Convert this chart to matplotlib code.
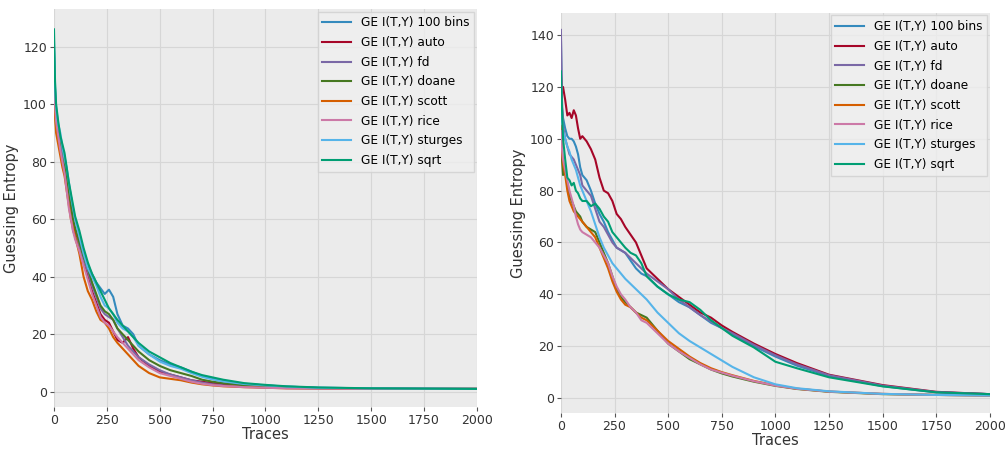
import matplotlib
matplotlib.use("Agg")
import matplotlib.pyplot as plt

# trace counts at which the curves were read
traces = [0, 5, 10, 20, 30, 40, 50, 60, 70, 80, 90, 100, 120, 140, 160, 180, 200,
          220, 240, 260, 280, 300, 325, 350, 375, 400, 450, 500, 550, 600, 650,
          700, 750, 800, 900, 1000, 1100, 1250, 1500, 1750, 2000]

labels = ['GE I(T,Y) 100 bins', 'GE I(T,Y) auto', 'GE I(T,Y) fd', 'GE I(T,Y) doane',
          'GE I(T,Y) scott', 'GE I(T,Y) rice', 'GE I(T,Y) sturges', 'GE I(T,Y) sqrt']
colors = ['#348ABD', '#A60628', '#7A68A6', '#467821', '#D55E00', '#CC79A7', '#56B4E9', '#009E73']

# left panel
left_100bins = [118, 105, 98, 92, 88, 84, 82, 77, 72, 68, 63, 60, 55, 49, 44, 41, 38, 36, 34, 35.5, 33,
                27, 23, 22, 20, 16, 13, 11, 9.5, 8.5, 7, 5.5, 4.5, 3.8, 2.8, 2.2, 1.8, 1.4, 1.2, 1.1, 1.0]
left_auto = [112, 100, 94, 90, 86, 81, 77, 72, 66, 62, 58, 55, 50, 45, 40, 35, 31, 27, 25, 24, 21,
             18, 17, 19, 15, 12, 9, 7, 6, 5, 4, 3.5, 3, 2.6, 2.1, 1.8, 1.5, 1.3, 1.1, 1.0, 1.0]
left_fd = [120, 104, 96, 91, 87, 83, 80, 74, 68, 62, 56, 54, 51, 46, 42, 37, 33, 29, 27, 26, 25,
           22, 19, 16, 14, 12, 9.5, 7.5, 6, 5, 4, 3.2, 2.6, 2.2, 1.8, 1.5, 1.3, 1.2, 1.1, 1.0, 1.0]
left_doane = [110, 98, 92, 88, 86, 85, 80, 75, 70, 65, 60, 57, 52, 47, 43, 38, 34, 30, 28, 27, 25,
              22, 20, 18, 16, 14, 11, 9, 7.5, 6.5, 5.5, 4.2, 3.5, 3, 2.3, 1.9, 1.6, 1.3, 1.1, 1.0, 1.0]
left_scott = [108, 96, 90, 86, 82, 78, 75, 70, 65, 60, 57, 54, 48, 40, 35, 32, 28, 25, 24, 22, 19,
              17, 15, 13, 11, 9, 6.5, 5, 4.5, 4, 3.2, 2.6, 2.2, 1.9, 1.6, 1.4, 1.2, 1.1, 1.0, 1.0, 1.0]
left_rice = [115, 100, 94, 89, 84, 80, 76, 70, 64, 60, 56, 53, 49, 44, 39, 34, 30, 26, 24, 23, 21,
             19, 17, 15, 13, 11, 8.5, 6.5, 5.5, 4.5, 3.5, 2.8, 2.3, 2, 1.6, 1.4, 1.2, 1.1, 1.0, 1.0, 1.0]
left_sturges = [122, 106, 99, 93, 90, 85, 81, 78, 73, 68, 64, 60, 54, 48, 43, 40, 37, 33, 30, 29, 27,
                24, 22, 21, 19, 16, 13, 10.5, 9, 8, 6.5, 5.2, 4.3, 3.6, 2.7, 2.2, 1.8, 1.4, 1.2, 1.1, 1.0]
left_sqrt = [126, 108, 100, 94, 89, 86, 83, 78, 73, 69, 65, 61, 56, 50, 45, 41, 38, 35, 32, 29, 27,
             25, 23, 21, 19, 17, 14, 12, 10, 8.5, 7, 5.8, 5, 4.2, 3.0, 2.4, 1.9, 1.5, 1.2, 1.1, 1.0]

# right panel
right_100bins = [140, 112, 108, 104, 101, 100, 100, 99, 97, 94, 89, 86, 84, 80, 75, 71, 68, 64, 61, 58, 57,
                 56, 53, 50, 48, 47, 43, 40, 37, 35, 32, 29, 27, 24.5, 20, 16, 12.5, 8.5, 4.6, 2.2, 1.5]
right_auto = [125, 118, 120, 115, 109, 110, 108, 111, 109, 104, 100, 101, 99, 96, 92, 85, 80, 79, 76, 71, 69,
              66, 63, 60, 55, 50, 46, 42, 39, 36, 33, 31, 28, 25.5, 21, 17, 13.5, 9, 5, 2.4, 1.5]
right_fd = [142, 115, 105, 100, 97, 94, 93, 92, 90, 88, 86, 82, 80, 78, 73, 68, 66, 63, 60, 58, 57,
            56, 54, 52, 50, 48, 45, 42, 38, 35, 32, 29.5, 27, 25, 20.5, 16.5, 13, 8.8, 4.8, 2.3, 1.5]
right_doane = [100, 92, 86, 88, 82, 78, 76, 74, 72, 71, 70, 68, 66, 65, 64, 60, 56, 52, 47, 42, 39,
               37, 35, 33, 32, 31, 26, 21, 18, 15, 13, 11, 9.5, 8.3, 6.3, 4.7, 3.5, 2.4, 1.5, 1.2, 1.0]
right_scott = [105, 95, 90, 86, 80, 76, 74, 72, 71, 70, 69, 68, 66, 64, 62, 58, 54, 50, 45, 41, 38,
               36, 35, 33, 31, 30, 26, 22, 19, 16, 13.5, 11.5, 10, 8.8, 6.6, 4.9, 3.6, 2.5, 1.6, 1.2, 1.0]
right_rice = [103, 96, 92, 88, 84, 80, 77, 74, 70, 67, 65, 64, 63, 62, 60, 58, 55, 52, 47, 43, 40,
              38, 35, 33, 30, 29, 25, 21, 18, 15.5, 13, 11, 9.8, 8.6, 6.5, 4.8, 3.6, 2.5, 1.6, 1.2, 1.0]
right_sturges = [115, 108, 103, 100, 97, 95, 92, 90, 88, 85, 82, 80, 76, 72, 67, 62, 58, 55, 52, 50, 48,
                 46, 44, 42, 40, 38, 33, 29, 25, 22, 19.5, 17, 14.5, 12, 8, 5.3, 3.8, 2.6, 1.6, 1.2, 1.0]
right_sqrt = [126, 112, 100, 92, 85, 84, 82, 83, 80, 79, 77, 76, 76, 74, 75, 73, 70, 68, 64, 62, 60,
              58, 56, 55, 52, 47, 43, 40, 38, 37, 34, 30, 27, 24, 19.5, 14, 11.5, 8, 4.5, 2.2, 1.5]

left_series = [left_100bins, left_auto, left_fd, left_doane, left_scott, left_rice, left_sturges, left_sqrt]
right_series = [right_100bins, right_auto, right_fd, right_doane, right_scott, right_rice, right_sturges, right_sqrt]

fig = plt.figure(figsize=(10.07, 4.49), dpi=100)
ax1 = fig.add_axes([0.0536, 0.0935, 0.42, 0.886])
ax2 = fig.add_axes([0.557, 0.080, 0.426, 0.891])

for ax, series, ylim, yticks in [(ax1, left_series, (-5.3, 133), range(0, 121, 20)),
                                 (ax2, right_series, (-5.8, 148.5), range(0, 141, 20))]:
    ax.set_facecolor('#ebebeb')
    for ys, lab, c in zip(series, labels, colors):
        ax.plot(traces, ys, color=c, lw=1.5, label=lab)
    ax.set_xlim(0, 2000)
    ax.set_ylim(*ylim)
    ax.set_xticks(range(0, 2001, 250))
    ax.set_yticks(list(yticks))
    ax.grid(True, color='#d6d6d6', lw=0.8)
    ax.set_axisbelow(True)
    for s in ax.spines.values():
        s.set_visible(False)
    ax.tick_params(colors='#555555', labelcolor='#333333', labelsize=9, length=3, pad=2)
    ax.set_xlabel('Traces', fontsize=10.5, color='#333333', labelpad=0)
    ax.set_ylabel('Guessing Entropy', fontsize=10.5, color='#333333', labelpad=3)
    leg = ax.legend(loc='upper right', fontsize=8.7, frameon=True, fancybox=False,
                    handlelength=2.4, labelspacing=0.55, borderaxespad=0.2)
    leg.get_frame().set_facecolor('#efefef')
    leg.get_frame().set_edgecolor('#d0d0d0')

fig.savefig('out.png', dpi=100)
